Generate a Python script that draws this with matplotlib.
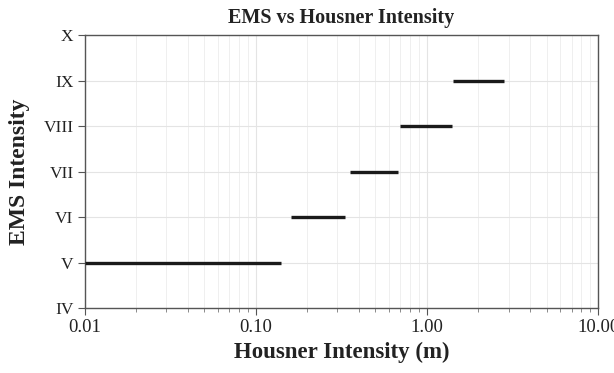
import matplotlib.pyplot as plt
import matplotlib.ticker as mticker
import numpy as np

# EMS intensity level and Housner intensity range (m) for each level
emsLevels = [5, 6, 7, 8, 9]
housnerLow = [0.01, 0.16, 0.355, 0.70, 1.42]
housnerHigh = [0.14, 0.33, 0.68, 1.40, 2.82]

yTicks = [4, 5, 6, 7, 8, 9, 10]
yTickLabels = ["IV", "V", "VI", "VII", "VIII", "IX", "X"]
xTicks = [0.01, 0.1, 1, 10]
xTickLabels = ["0.01", "0.10", "1.00", "10.00"]

plt.rcParams['font.family'] = ['Liberation Serif', 'DejaVu Serif']

fig = plt.figure(figsize=(6.14, 3.73), dpi=100)
ax = fig.add_axes([0.138, 0.174, 0.836, 0.732])

ax.hlines(emsLevels, housnerLow, housnerHigh, colors="#1a1a1a", linewidth=2.4, zorder=3)

ax.set_xscale("log")
ax.set_xlim(0.01, 10)
ax.set_ylim(4, 10)
ax.set_xticks(xTicks)
ax.set_xticklabels(xTickLabels)
ax.set_yticks(yTicks)
ax.set_yticklabels(yTickLabels)
ax.xaxis.set_minor_locator(mticker.LogLocator(base=10, subs=np.arange(2, 10)))
ax.xaxis.set_minor_formatter(mticker.NullFormatter())

ax.grid(which="major", axis="both", color="#e4e4e4", linewidth=0.8)
ax.grid(which="minor", axis="x", color="#ececec", linewidth=0.6)
ax.set_axisbelow(True)

for s in ax.spines.values():
    s.set_color("#555555")
    s.set_linewidth(1.0)
ax.tick_params(axis="both", which="major", direction="out", length=5, color="#555555",
               labelcolor="#222222")
ax.tick_params(axis="y", which="major", pad=3, labelsize=12.5)
ax.tick_params(axis="x", which="major", pad=3, labelsize=13.5)
ax.tick_params(axis="x", which="minor", direction="out", length=3, color="#777777")

ax.set_title("EMS vs Housner Intensity", fontsize=14.5, fontweight="bold", color="#222222", pad=9)
ax.set_xlabel("Housner Intensity (m)", fontsize=16.5, fontweight="bold", color="#222222", labelpad=4)
ax.set_ylabel("EMS Intensity", fontsize=17, fontweight="bold", color="#222222", labelpad=10)

fig.savefig("out.png", dpi=100)
